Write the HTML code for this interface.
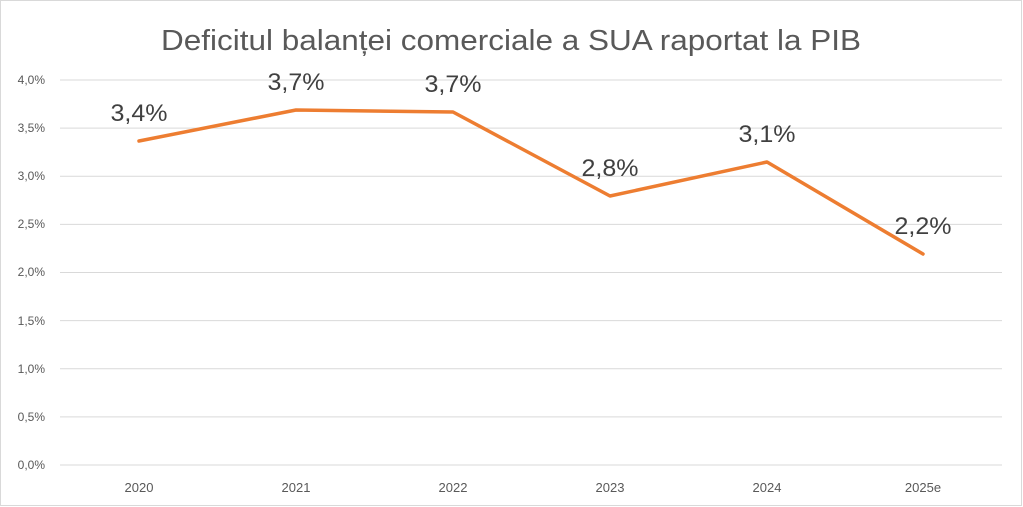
<!DOCTYPE html>
<html><head><meta charset="utf-8"><style>
html,body{margin:0;padding:0;background:#fff;}
svg{display:block;}
text{font-family:"Liberation Sans",sans-serif;}
</style></head><body>
<svg width="1023" height="507" xmlns="http://www.w3.org/2000/svg">
<rect x="0.5" y="0.5" width="1021" height="505" fill="#fff" stroke="#d9d9d9"/>
<text x="511" y="50" font-size="29" fill="#595959" text-anchor="middle" textLength="700" lengthAdjust="spacingAndGlyphs">Deficitul balanței comerciale a SUA raportat la PIB</text>
<g stroke="#d9d9d9" stroke-width="1">
<line x1="60" x2="1002" y1="80" y2="80"/>
<line x1="60" x2="1002" y1="128.1" y2="128.1"/>
<line x1="60" x2="1002" y1="176.2" y2="176.2"/>
<line x1="60" x2="1002" y1="224.4" y2="224.4"/>
<line x1="60" x2="1002" y1="272.5" y2="272.5"/>
<line x1="60" x2="1002" y1="320.6" y2="320.6"/>
<line x1="60" x2="1002" y1="368.7" y2="368.7"/>
<line x1="60" x2="1002" y1="416.9" y2="416.9"/>
<line x1="60" x2="1002" y1="465" y2="465"/>
</g>
<g font-size="12" fill="#595959" text-anchor="end">
<text x="45" y="84">4,0%</text>
<text x="45" y="132">3,5%</text>
<text x="45" y="180">3,0%</text>
<text x="45" y="228">2,5%</text>
<text x="45" y="276">2,0%</text>
<text x="45" y="325">1,5%</text>
<text x="45" y="373">1,0%</text>
<text x="45" y="421">0,5%</text>
<text x="45" y="469">0,0%</text>
</g>
<g font-size="13" fill="#595959" text-anchor="middle">
<text x="139" y="492">2020</text>
<text x="296" y="492">2021</text>
<text x="453" y="492">2022</text>
<text x="610" y="492">2023</text>
<text x="767" y="492">2024</text>
<text x="923" y="492">2025e</text>
</g>
<polyline points="139,141 296,110 453,112 610,196 767,162 923,254" fill="none" stroke="#ed7d31" stroke-width="3.5" stroke-linejoin="round" stroke-linecap="round"/>
<g font-size="24" fill="#404040" text-anchor="middle">
<text x="139" y="121" textLength="57" lengthAdjust="spacingAndGlyphs">3,4%</text>
<text x="296" y="90" textLength="57" lengthAdjust="spacingAndGlyphs">3,7%</text>
<text x="453" y="92" textLength="57" lengthAdjust="spacingAndGlyphs">3,7%</text>
<text x="610" y="176" textLength="57" lengthAdjust="spacingAndGlyphs">2,8%</text>
<text x="767" y="142" textLength="57" lengthAdjust="spacingAndGlyphs">3,1%</text>
<text x="923" y="234" textLength="57" lengthAdjust="spacingAndGlyphs">2,2%</text>
</g>
</svg>
</body></html>
